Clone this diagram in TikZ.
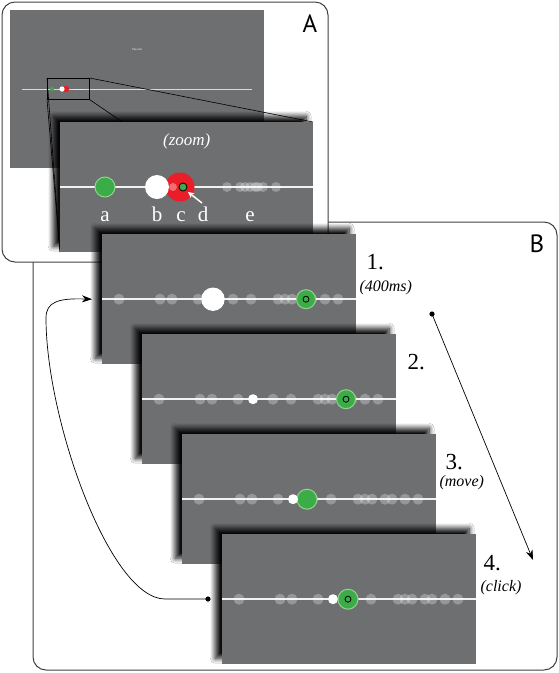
\documentclass[tikz,border=0pt]{standalone}
\usepackage{fontspec}
\setmainfont{Liberation Serif}
\newfontfamily\tagfont{PT Sans}
\usetikzlibrary{positioning,calc,arrows.meta,shadows.blur}
\definecolor{scrgray}{RGB}{110,111,113}
\definecolor{dotgreen}{RGB}{60,172,72}
\definecolor{ringgreen}{RGB}{145,210,140}
\definecolor{dotred}{RGB}{234,30,40}

% one row of faint trial dots on a panel
\newcommand{\trialrow}[1]{%
  \draw[track] (#1.west) -- (#1.east);
  \foreach \x in {17,58,70,96,131,149,176,183,190,203,210,223,236}
    \fill[ghost] (#1.west) ++(\x,0) circle (5.5);
}

\begin{document}
\begin{tikzpicture}[x=1pt, y=-1pt,
    panel/.style={fill=scrgray, anchor=north west, inner sep=0pt,
      minimum width=254pt, minimum height=130pt,
      blur shadow={shadow xshift=-7pt, shadow yshift=6pt,
        shadow blur radius=5pt, shadow blur steps=12, shadow opacity=95}},
    frame/.style={draw=black!75, line width=1pt, fill=white, rounded corners=13pt},
    track/.style={draw=white!95!black, line width=1.5pt},
    ghost/.style={fill=white, fill opacity=0.28},
    target/.style={fill=dotgreen, draw=ringgreen, line width=1pt},
    ring/.style={draw=black, line width=0.8pt},
    stepnum/.style={font=\fontsize{23}{25}\selectfont, anchor=west, inner sep=0pt},
    stepnote/.style={font=\fontsize{16}{18}\selectfont\itshape, anchor=west, inner sep=0pt},
    letter/.style={font=\fontsize{21}{23}\selectfont, text=white, anchor=base, inner sep=0pt},
    tag/.style={font=\tagfont\fontsize{25}{27}\selectfont, inner sep=0pt},
    ar/.style={-{Stealth[length=10pt, width=7pt]}, line width=0.7pt},
  ]
\useasboundingbox (0,0) rectangle (559,673);

% frames of the two parts
\draw[frame] (33,222) rectangle (557,670);
\draw[frame] (2,2) rectangle (328,262);
\node[tag] (tagA) at (310,24) {A};
\node[tag] (tagB) at (537,244) {B};

% A: whole screen
\node[fill=scrgray, anchor=north west, inner sep=0pt,
  minimum width=254pt, minimum height=158pt] (scr) at (10,10) {};
\node[text=white, font=\fontsize{3}{3}\selectfont] (scrtxt) at (137,49) {Tutorial};
\draw[white!70!gray, line width=0.4pt] (22,89) -- (252,89);
\draw[white!80!gray, line width=0.8pt] (73,89) -- (84,89);
\fill[dotgreen] (52,89) circle (2);
\fill[dotred] (66,89) circle (3.2);
\fill[white] (62,89) circle (2.6);
\node[draw=black, line width=0.6pt, anchor=north west, inner sep=0pt,
  minimum width=42pt, minimum height=21pt] (zbox) at (47,78) {};

% zoom lines
\coordinate (zSW) at (60,252);
\coordinate (zNE) at (313,122);
\coordinate (zSE) at (313,252);
\draw[line width=0.6pt] (zbox.north west) -- (zSW);
\draw[line width=0.6pt] (zbox.south west) -- (zSW);
\draw[line width=0.6pt] (zbox.north east) -- (zNE);
\draw[line width=0.6pt] (zbox.south east) -- (zSE);

% A: zoomed view
\node[panel, minimum width=253pt] (zoom) at (60,122) {};
\node[font=\fontsize{17}{19}\selectfont\itshape, text=white] (ztxt)
  at ($(zoom.north)+(0,19)$) {(zoom)};
\draw[track] (zoom.west) -- (zoom.east);
\draw[target] (105,187) circle (10);
\fill[dotred] (180,187) circle (14.5);
\fill[white] (157,187) circle (12);
\fill[white, fill opacity=0.35] (173,187) circle (4);
\draw[fill=dotgreen, line width=0.8pt] (183,187) circle (4);
\foreach \x in {227,240,245,250,255,258,263,276}
  \fill[ghost] (\x,187) circle (5);
\draw[white, line width=1.5pt, -{Stealth[length=6pt, width=6pt]}] (202,203) -- (188,192);
\node[letter] (la) at (105,221) {a};
\node[letter] (lb) at (157,221) {b};
\node[letter] (lc) at (181,221) {c};
\node[letter] (ld) at (203,221) {d};
\node[letter] (le) at (250,221) {e};

% B: step 1
\node[panel] (p1) at (102,234) {};
\trialrow{p1}
\fill[white] (p1.west) ++(111,0) circle (11.7);
\draw[target] (p1.west) ++(204,0) circle (9.5);
\draw[ring] (p1.west) ++(204,0) circle (3);
\node[stepnum] (n1) at ($(p1.north east)+(10,28)$) {1.};
\node[stepnote] (t1) at ($(p1.north east)+(3,54)$) {(400ms)};

% B: step 2
\node[panel] (p2) at (142,334) {};
\trialrow{p2}
\fill[white] (p2.west) ++(111,0) circle (5);
\draw[target] (p2.west) ++(204,0) circle (9.5);
\draw[ring] (p2.west) ++(204,0) circle (3);
\node[stepnum] (n2) at ($(p2.north east)+(11,28)$) {2.};

% B: step 3
\node[panel] (p3) at (182,434) {};
\trialrow{p3}
\draw[target] (p3.west) ++(125,0) circle (10);
\fill[white] (p3.west) ++(111,0) circle (5);
\node[stepnum] (n3) at ($(p3.north east)+(9,28)$) {3.};
\node[stepnote] (t3) at ($(p3.north east)+(3,49)$) {(move)};

% B: step 4
\node[panel] (p4) at (222,534) {};
\trialrow{p4}
\fill[white] (p4.west) ++(111,0) circle (5);
\draw[target] (p4.west) ++(126,0) circle (10);
\draw[ring] (p4.west) ++(126,0) circle (3);
\node[stepnum] (n4) at ($(p4.north east)+(7,29)$) {4.};
\node[stepnote] (t4) at ($(p4.north east)+(4,54)$) {(click)};

% order of the steps
\coordinate (fwdA) at (432,314);
\coordinate (fwdB) at (533,560);
\fill (fwdA) circle (2.6);
\draw[ar] (fwdA) -- (fwdB);

\coordinate (back) at (208,599);
\coordinate (backend) at ($(p1.west)+(-10,0)$);
\fill (back) circle (2.6);
\draw[ar] (back) -- (165,599)
  .. controls (110,599) and (46,420) .. (46,318)
  .. controls (46,302) and (58,298) .. (backend);
\end{tikzpicture}
\end{document}
